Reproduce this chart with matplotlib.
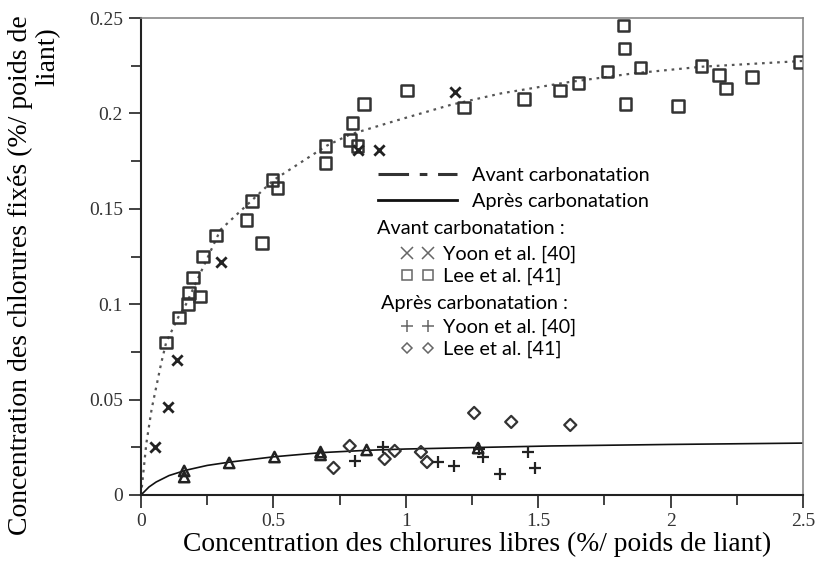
import matplotlib
matplotlib.use("Agg")
import matplotlib.pyplot as plt
from matplotlib.lines import Line2D
from matplotlib.ticker import MultipleLocator, FormatStrFormatter

# Avant carbonatation - Lee et al. [41] (carres)
lee_av_x = [0.095, 0.144, 0.178, 0.182, 0.223, 0.197, 0.235, 0.284, 0.398, 0.420, 0.458,
            0.496, 0.515, 0.697, 0.697, 0.788, 0.799, 0.818, 0.841, 1.004, 1.220,
            1.447, 1.583, 1.652, 1.761, 1.822, 1.826, 1.830, 1.886, 2.027, 2.117,
            2.182, 2.208, 2.307, 2.489]
lee_av_y = [0.080, 0.093, 0.100, 0.106, 0.104, 0.114, 0.125, 0.136, 0.144, 0.154, 0.132,
            0.165, 0.161, 0.183, 0.174, 0.186, 0.195, 0.183, 0.205, 0.212, 0.203,
            0.2075, 0.212, 0.216, 0.222, 0.246, 0.234, 0.205, 0.224, 0.204, 0.225,
            0.220, 0.213, 0.219, 0.227]

# Avant carbonatation - Yoon et al. [40] (croix)
yoon_av_x = [0.053, 0.102, 0.136, 0.303, 0.818, 0.900, 1.186]
yoon_av_y = [0.025, 0.046, 0.071, 0.122, 0.181, 0.181, 0.211]

# Apres carbonatation - Yoon et al. [40] (plus)
yoon_ap_x = [0.807, 0.913, 1.121, 1.182, 1.277, 1.292, 1.356, 1.462, 1.489]
yoon_ap_y = [0.0178, 0.0252, 0.0173, 0.0152, 0.0241, 0.0200, 0.0110, 0.0225, 0.0142]

# Apres carbonatation - Lee et al. [41] (losanges)
lee_ap_x = [0.727, 0.788, 0.920, 0.958, 1.057, 1.080, 1.258, 1.398, 1.621]
lee_ap_y = [0.0142, 0.0257, 0.0189, 0.0231, 0.0225, 0.0173, 0.0430, 0.0383, 0.0367]

# triangles sur la courbe apres carbonatation
tri_x = [0.163, 0.163, 0.333, 0.504, 0.678, 0.678, 0.852, 1.273]
tri_y = [0.0126, 0.0094, 0.0168, 0.0199, 0.0225, 0.0210, 0.0236, 0.0246]

# courbes
avant_cx = [0, 0.02, 0.04, 0.076, 0.095, 0.14, 0.17, 0.30, 0.50, 0.70, 0.79, 0.97,
            1.17, 1.36, 1.61, 1.86, 2.12, 2.5]
avant_cy = [0, 0.027, 0.045, 0.069, 0.080, 0.093, 0.100, 0.139, 0.165, 0.183, 0.189,
            0.1965, 0.2045, 0.2105, 0.2163, 0.221, 0.2245, 0.2275]
apres_cx = [0, 0.03, 0.057, 0.106, 0.17, 0.25, 0.333, 0.5, 0.68, 0.85, 1.0, 1.27, 1.55, 2.0, 2.5]
apres_cy = [0, 0.0042, 0.0068, 0.0102, 0.0130, 0.0155, 0.0172, 0.0200, 0.0222, 0.0234, 0.0241,
            0.0249, 0.0257, 0.0265, 0.0272]

serif = "Liberation Serif"
sans = "Lato"
dark = "#222222"

fig = plt.figure(figsize=(8.19, 5.63), dpi=100)
ax = fig.add_axes([0.1722, 0.1208, 0.8083, 0.8472])

ax.plot(avant_cx, avant_cy, color="#555555", lw=1.6, linestyle=(0, (1.2, 2.2)))
ax.plot(apres_cx, apres_cy, color="#111111", lw=1.2)

ax.scatter(lee_av_x, lee_av_y, marker="s", s=70, facecolors="none", edgecolors="#333333", linewidths=1.8, zorder=3)
ax.scatter(yoon_av_x, yoon_av_y, marker="x", s=55, color=dark, linewidths=2.0, zorder=3)
ax.scatter(tri_x, tri_y, marker="^", s=55, facecolors="none", edgecolors=dark, linewidths=1.8, zorder=3)
ax.scatter(lee_ap_x, lee_ap_y, marker="D", s=38, facecolors="none", edgecolors="#333333", linewidths=1.6, zorder=3)
ax.scatter(yoon_ap_x, yoon_ap_y, marker="+", s=85, color=dark, linewidths=1.6, zorder=3)

ax.set_xlim(0, 2.5)
ax.set_ylim(0, 0.25)
ax.xaxis.set_major_locator(MultipleLocator(0.5))
ax.xaxis.set_minor_locator(MultipleLocator(0.25))
ax.yaxis.set_major_locator(MultipleLocator(0.05))
ax.yaxis.set_minor_locator(MultipleLocator(0.025))
ax.xaxis.set_major_formatter(FormatStrFormatter("%g"))
ax.yaxis.set_major_formatter(FormatStrFormatter("%g"))
ax.tick_params(which="both", direction="out", color="#333333", width=1.3)
ax.tick_params(which="major", length=9, labelsize=14, pad=4)
ax.tick_params(which="minor", length=7)
for lab in ax.get_xticklabels() + ax.get_yticklabels():
    lab.set_fontfamily(serif)
    lab.set_color("#333333")

for side in ["left", "bottom"]:
    ax.spines[side].set_color("#222222")
    ax.spines[side].set_linewidth(1.5)
for side in ["top", "right"]:
    ax.spines[side].set_color("#888888")
    ax.spines[side].set_linewidth(1.2)

ax.set_xlabel("Concentration des chlorures libres (%/ poids de liant)", fontfamily=serif,
              fontsize=19.8, labelpad=1)
ax.xaxis.label.set_x(0.508)
fig.text(0.0244, 0.5115, "Concentration des chlorures fixés (%/ poids de", rotation=90,
         fontfamily=serif, fontsize=20, ha="center", va="center")
fig.text(0.0586, 0.899, "liant)", rotation=90, fontfamily=serif, fontsize=20,
         ha="center", va="center")

# legende
fs = 14.3
lines_h = [Line2D([], [], color="#333333", lw=2.2, dashes=(10, 3.5, 2.5, 3.5)),
           Line2D([], [], color="#111111", lw=2.0)]
leg1 = fig.legend(lines_h, ["Avant carbonatation", "Après carbonatation"],
                  loc="upper left", bbox_to_anchor=(378 / 819, 1 - 167 / 563),
                  frameon=False, prop={"family": sans, "size": fs},
                  handlelength=4.0, handletextpad=0.75, labelspacing=0.44,
                  borderpad=0, borderaxespad=0)

fig.text(377 / 819, 1 - 228 / 563, "Avant carbonatation :", fontfamily=sans, fontsize=fs,
         va="center", ha="left")
av_h = [Line2D([], [], color="#666666", marker="x", linestyle="none", markersize=8, mew=1.1),
        Line2D([], [], color="#666666", marker="s", linestyle="none", markersize=7,
               mfc="none", mew=1.1)]
leg2 = fig.legend(av_h, ["Yoon et al. [40]", "Lee et al. [41]"], numpoints=2,
                  loc="upper left", bbox_to_anchor=(401 / 819, 1 - 246 / 563),
                  frameon=False, prop={"family": sans, "size": fs},
                  handlelength=1.66, handletextpad=0.45, labelspacing=0.24,
                  borderpad=0, borderaxespad=0)

fig.text(381 / 819, 1 - 303 / 563, "Après carbonatation :", fontfamily=sans, fontsize=fs,
         va="center", ha="left")
ap_h = [Line2D([], [], color="#666666", marker="+", linestyle="none", markersize=9, mew=1.1),
        Line2D([], [], color="#666666", marker="D", linestyle="none", markersize=5.5,
               mfc="none", mew=1.1)]
leg3 = fig.legend(ap_h, ["Yoon et al. [40]", "Lee et al. [41]"], numpoints=2,
                  loc="upper left", bbox_to_anchor=(401 / 819, 1 - 319 / 563),
                  frameon=False, prop={"family": sans, "size": fs},
                  handlelength=1.66, handletextpad=0.45, labelspacing=0.24,
                  borderpad=0, borderaxespad=0)

fig.savefig("out.png", dpi=100)
